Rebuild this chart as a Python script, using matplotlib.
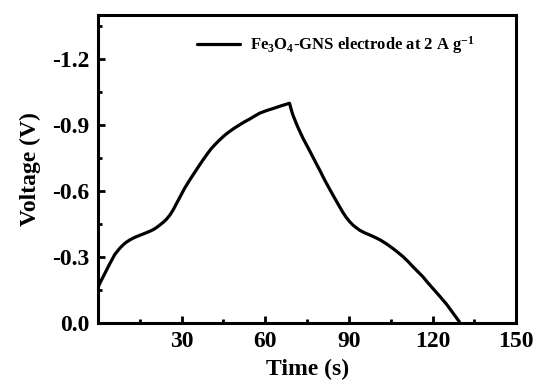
import matplotlib
matplotlib.use("Agg")
import matplotlib.pyplot as plt
from matplotlib.ticker import MultipleLocator, FixedLocator

plt.rcParams['font.family'] = ['Liberation Serif', 'DejaVu Serif']
plt.rcParams['font.weight'] = 'bold'
plt.rcParams['mathtext.fontset'] = 'custom'
plt.rcParams['mathtext.rm'] = 'Liberation Serif:bold'
plt.rcParams['mathtext.bf'] = 'Liberation Serif:bold'
plt.rcParams['mathtext.it'] = 'Liberation Serif:bold'

time_s = [0, 0.7, 1.6, 2.5, 3.4, 4.3, 5.2, 6.0, 7.0, 7.9, 9.0, 10.0, 11.3, 12.6, 13.8,
          15.0, 16.2, 17.4, 18.7, 20.0, 21.1, 22.2, 23.4, 24.5, 25.8, 27.0,
          29.0, 31.1, 32.8, 34.5, 36.1, 37.7, 39.1, 40.5, 42.1, 43.7, 45.3, 47.0,
          48.9, 50.8, 52.6, 54.5, 56.2, 58.0, 60.5, 63.0, 65.8, 68.7,
          69.3, 69.9, 70.7, 71.5, 72.5, 73.5, 75.0, 76.5, 78.0, 79.5, 81.2, 83.0,
          84.8, 86.6, 87.8, 89.0, 90.2, 91.4, 92.7, 94.0, 95.7, 97.4,
          99.5, 101.5, 103.6, 105.7, 107.6, 109.5, 111.2, 112.9, 114.7, 116.5,
          118.2, 120.0, 122.5, 125.0, 127.3, 129.6]
voltage_v = [-0.16, -0.18, -0.203, -0.225, -0.248, -0.27, -0.291, -0.31, -0.326, -0.34,
             -0.354, -0.365, -0.376, -0.385, -0.392, -0.398, -0.404, -0.41, -0.417,
             -0.425, -0.434, -0.445, -0.457, -0.47, -0.49, -0.514,
             -0.562, -0.612, -0.647, -0.68, -0.711, -0.741, -0.766, -0.79, -0.812,
             -0.832, -0.851, -0.868, -0.885, -0.9, -0.914, -0.927, -0.94, -0.953,
             -0.965, -0.975, -0.987, -0.998,
             -0.97, -0.945, -0.92, -0.895, -0.867, -0.84, -0.804, -0.768, -0.731,
             -0.695, -0.652, -0.61, -0.569, -0.529, -0.503, -0.48, -0.461, -0.445,
             -0.432, -0.42, -0.409, -0.4, -0.388, -0.375, -0.358, -0.339, -0.32,
             -0.3, -0.279, -0.256, -0.233, -0.21, -0.184, -0.158, -0.122, -0.085,
             -0.045, -0.005]
series_label = r'Fe$_\mathregular{3}$O$_\mathregular{4}$-GNS electrode at 2 A g$^\mathregular{-1}$'
x_major = [30, 60, 90, 120, 150]

fig = plt.figure(figsize=(5.35, 3.9), dpi=100)
ax = fig.add_axes([0.183, 0.172, 0.782, 0.79])
ax.plot(time_s, voltage_v, color='black', lw=2.3, label=series_label,
        solid_joinstyle='round', solid_capstyle='round')

ax.set_xlim(0, 150)
ax.set_ylim(0, -1.4)
ax.xaxis.set_major_locator(FixedLocator(x_major))
ax.xaxis.set_minor_locator(MultipleLocator(15))
ax.yaxis.set_minor_locator(MultipleLocator(0.15))
ax.set_yticks([0.0, -0.3, -0.6, -0.9, -1.2])
ax.set_yticklabels(['0.0', '-0.3', '-0.6', '-0.9', '-1.2'])

ax.tick_params(which='both', direction='in', top=False, right=False, width=2)
ax.tick_params(which='major', length=5, labelsize=17, pad=6)
ax.tick_params(which='minor', length=3)
for lab in ax.get_xticklabels() + ax.get_yticklabels():
    lab.set_fontweight('bold')
for sp in ax.spines.values():
    sp.set_linewidth(2.2)

ax.set_xlabel('Time (s)', fontsize=17, fontweight='bold', labelpad=5)
ax.set_ylabel('Voltage (V)', fontsize=17, fontweight='bold', labelpad=8)

leg = ax.legend(loc='upper left', bbox_to_anchor=(0.2, 0.985), frameon=False,
                prop={'size': 12, 'weight': 'bold'}, handlelength=2.6, handletextpad=0.6)

fig.savefig('out.png', dpi=100)
